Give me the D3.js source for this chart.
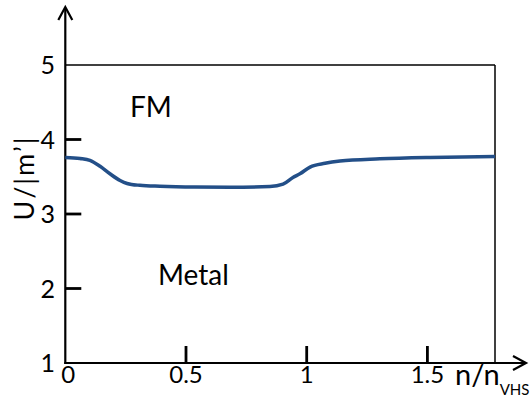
<!DOCTYPE html>
<html>
<head>
<meta charset="utf-8">
<script src="https://cdn.jsdelivr.net/npm/d3@7"></script>
<style>
  body { margin: 0; background: #fff; }
  text { font-family: Lato, "Open Sans", sans-serif; fill: #000; }
</style>
</head>
<body>
<div id="container"></div>
<script>
/* CONSTANTS AND GLOBALS */
const width = 532;
const height = 397;

/* DATA */
// n/n_VHS values along the boundary
const nValues = [0, 0.061, 0.102, 0.144, 0.185, 0.227, 0.256, 0.309, 0.392, 0.537, 0.682, 0.848, 0.902, 0.943, 0.972, 1.014, 1.076, 1.138, 1.303, 1.511, 1.78];
// critical U/|m'| on the boundary
const uValues = [3.76, 3.745, 3.72, 3.64, 3.54, 3.45, 3.41, 3.385, 3.372, 3.362, 3.36, 3.368, 3.40, 3.49, 3.54, 3.63, 3.68, 3.71, 3.74, 3.76, 3.773];
const xTicks = [0.5, 1, 1.5];
const xTickLabels = ["0", "0.5", "1", "1.5"];
const yTicks = [2, 3, 4];
const yTickLabels = ["1", "2", "3", "4", "5"];
const regionLabels = [
  {text: "FM", n: 0.268, u: 4.30},
  {text: "Metal", n: 0.384, u: 2.05}
];

const data = nValues.map((n, i) => ({n: n, u: uValues[i]}));

/* SCALES */
const xScale = d3.scaleLinear()
  .domain([0, 1.78])
  .range([65.3, 495]);

const yScale = d3.scaleLinear()
  .domain([1, 5])
  .range([363, 65]);

/* SVG */
const svg = d3.select("#container")
  .append("svg")
  .attr("width", width)
  .attr("height", height);

// frame top / right
svg.append("line")
  .attr("x1", xScale(0)).attr("x2", xScale(1.78))
  .attr("y1", yScale(5)).attr("y2", yScale(5))
  .attr("stroke", "#000").attr("stroke-width", 1.3);
svg.append("line")
  .attr("x1", xScale(1.78)).attr("x2", xScale(1.78))
  .attr("y1", yScale(5)).attr("y2", yScale(1))
  .attr("stroke", "#000").attr("stroke-width", 1.5);

// y axis with arrow
svg.append("line")
  .attr("x1", xScale(0)).attr("x2", xScale(0))
  .attr("y1", yScale(1) + 1).attr("y2", 8)
  .attr("stroke", "#000").attr("stroke-width", 2.2);
svg.append("path")
  .attr("d", `M${xScale(0) - 7},20 L${xScale(0)},7 L${xScale(0) + 7},20`)
  .attr("fill", "none").attr("stroke", "#000").attr("stroke-width", 2.2);

// x axis with arrow
svg.append("line")
  .attr("x1", xScale(0) - 1).attr("x2", 525)
  .attr("y1", yScale(1)).attr("y2", yScale(1))
  .attr("stroke", "#000").attr("stroke-width", 2.2);
svg.append("path")
  .attr("d", `M513,${yScale(1) - 7} L526,${yScale(1)} L513,${yScale(1) + 7}`)
  .attr("fill", "none").attr("stroke", "#000").attr("stroke-width", 2.2);

// ticks
svg.selectAll(".ytick")
  .data(yTicks)
  .join("line")
  .attr("class", "ytick")
  .attr("x1", xScale(0)).attr("x2", xScale(0) + 16)
  .attr("y1", d => yScale(d)).attr("y2", d => yScale(d))
  .attr("stroke", "#000").attr("stroke-width", 2.8);

svg.selectAll(".xtick")
  .data(xTicks)
  .join("line")
  .attr("class", "xtick")
  .attr("x1", d => xScale(d)).attr("x2", d => xScale(d))
  .attr("y1", yScale(1)).attr("y2", yScale(1) - 17)
  .attr("stroke", "#000").attr("stroke-width", 2.8);

// tick labels
svg.selectAll(".ylab")
  .data(yTickLabels)
  .join("text")
  .attr("class", "ylab")
  .attr("x", 55)
  .attr("y", d => yScale(+d))
  .attr("dy", "0.36em")
  .attr("text-anchor", "end")
  .style("font-size", "25px")
  .text(d => d);

svg.selectAll(".xlab")
  .data(xTickLabels)
  .join("text")
  .attr("class", "xlab")
  .attr("x", (d, i) => i === 0 ? xScale(0) + 3 : xScale(+d))
  .attr("y", yScale(1) + 20)
  .attr("text-anchor", "middle")
  .style("font-size", "24px")
  .text(d => d);

// axis titles
const xTitle = svg.append("text")
  .attr("x", 455)
  .attr("y", 385)
  .style("font-size", "29px");
xTitle.append("tspan").text("n/n");
xTitle.append("tspan").attr("dy", 10).style("font-size", "15px").text("VHS");

svg.append("text")
  .attr("transform", "translate(34,178) rotate(-90)")
  .attr("text-anchor", "middle")
  .style("font-size", "27px")
  .style("letter-spacing", "2px")
  .text("U/|m\u2019|");

// region labels
svg.selectAll(".region")
  .data(regionLabels)
  .join("text")
  .attr("class", "region")
  .attr("x", d => xScale(d.n))
  .attr("y", d => yScale(d.u))
  .style("font-size", "28px")
  .text(d => d.text);

// boundary curve
const line = d3.line()
  .x(d => xScale(d.n))
  .y(d => yScale(d.u))
  .curve(d3.curveMonotoneX);

svg.append("path")
  .datum(data)
  .attr("d", line)
  .attr("fill", "none")
  .attr("stroke", "#234f88")
  .attr("stroke-width", 3.5);
</script>
</body>
</html>
